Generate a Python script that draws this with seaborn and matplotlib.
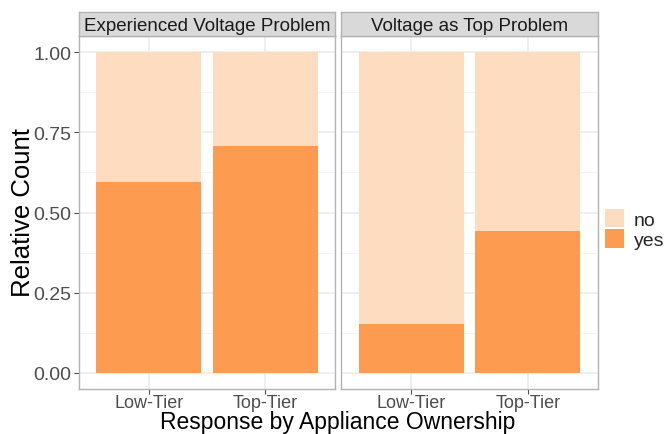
import numpy as np
import pandas as pd
import matplotlib
matplotlib.use("Agg")
import matplotlib.pyplot as plt
import seaborn as sns
from matplotlib.patches import Patch

# ==============================================================================
# DATOS
# ==============================================================================
paneles = ["Experienced Voltage Problem", "Voltage as Top Problem"]
niveles = ["Low-Tier", "Top-Tier"]
prop_yes = {
    "Experienced Voltage Problem": [0.596, 0.707],
    "Voltage as Top Problem": [0.154, 0.441],
}
yticks = [0.00, 0.25, 0.50, 0.75, 1.00]

COLOR_NO = "#FEDCC0"
COLOR_YES = "#FD9B50"

sns.set_style("white")
plt.rcParams["font.family"] = ["Liberation Sans", "DejaVu Sans"]

fig = plt.figure(figsize=(6.64, 4.35), dpi=100)
W, H = 664, 435

def px_axes(x0, x1, y0, y1):
    return fig.add_axes([x0 / W, 1 - y1 / H, (x1 - x0) / W, (y1 - y0) / H])

posiciones = [(79, 335), (341, 598)]
for i, (panel, (x0, x1)) in enumerate(zip(paneles, posiciones)):
    ax = px_axes(x0, x1, 37, 390)
    df = pd.DataFrame({"tier": niveles, "yes": prop_yes[panel]})
    df["total"] = 1.0
    # rejilla menor + mayor
    for v in [0.125, 0.375, 0.625, 0.875]:
        ax.axhline(v, color="#F2F2F2", lw=0.6, zorder=0)
    for v in yticks:
        ax.axhline(v, color="#EBEBEB", lw=1.1, zorder=0)
    for v in range(len(niveles)):
        ax.axvline(v, color="#EBEBEB", lw=1.1, zorder=0)
    sns.barplot(data=df, x="tier", y="total", color=COLOR_NO, width=0.9,
                saturation=1, ax=ax, zorder=2, order=niveles, linewidth=0)
    sns.barplot(data=df, x="tier", y="yes", color=COLOR_YES, width=0.9,
                saturation=1, ax=ax, zorder=3, order=niveles, linewidth=0)
    ax.set_xlim(-0.6, 1.6)
    ax.set_ylim(-0.05, 1.05)
    ax.set_xlabel("")
    ax.set_ylabel("")
    for s in ax.spines.values():
        s.set_color("#B3B3B3")
        s.set_linewidth(1.0)
    ax.tick_params(axis="x", length=3.5, color="#4D4D4D", labelsize=13,
                   labelcolor="#4D4D4D", pad=0, bottom=True)
    ax.set_yticks(yticks)
    if i == 0:
        ax.set_yticklabels([f"{v:.2f}" for v in yticks])
        ax.tick_params(axis="y", length=3.5, color="#4D4D4D", labelsize=14,
                       labelcolor="#4D4D4D", pad=2, left=True)
    else:
        ax.set_yticklabels([])
        ax.tick_params(axis="y", length=0)

    # franja del facet
    sax = px_axes(x0, x1, 13, 37)
    sax.set_facecolor("#D9D9D9")
    sax.set_xticks([])
    sax.set_yticks([])
    for s in sax.spines.values():
        s.set_color("#B3B3B3")
        s.set_linewidth(1.0)
    sax.text(0.5, 0.45, panel, ha="center", va="center", fontsize=13.5,
             color="#1A1A1A", transform=sax.transAxes)

fig.text(338 / W, 1 - 434.5 / H, "Response by Appliance Ownership", ha="center",
         va="bottom", fontsize=16.5, color="black")
fig.text(23 / W, 1 - 213 / H, "Relative Count", ha="center", va="center",
         rotation=90, fontsize=18.5, color="black")

handles = [Patch(facecolor=COLOR_NO, edgecolor="none", label="no"),
           Patch(facecolor=COLOR_YES, edgecolor="none", label="yes")]
fig.legend(handles=handles, loc="center left", bbox_to_anchor=(605 / W, 1 - 230 / H),
           frameon=False, fontsize=14, handlelength=1.0, handleheight=1.1,
           handletextpad=0.5, labelspacing=0.05, borderaxespad=0, borderpad=0)

fig.savefig("out.png", dpi=100)
